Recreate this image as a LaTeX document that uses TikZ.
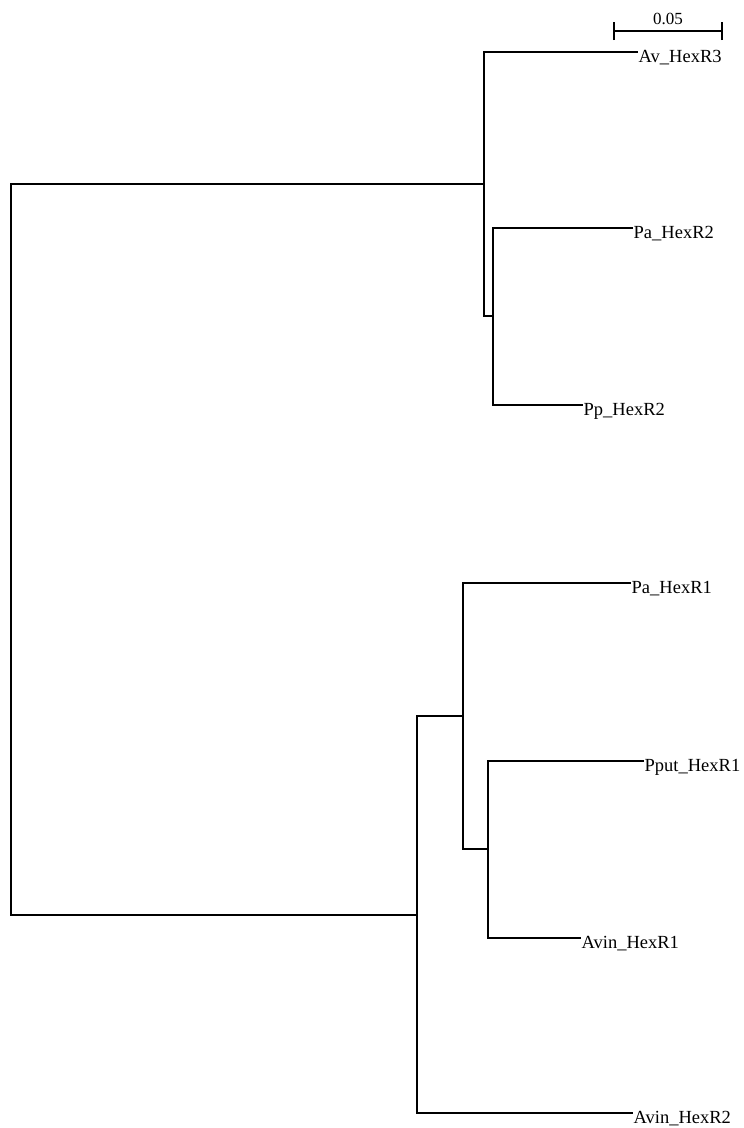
\documentclass[tikz,border=0pt]{standalone}
\usepackage{fontspec}
\setmainfont{Liberation Serif}
\begin{document}
\begin{tikzpicture}[x=1pt,y=-1pt,
  branch/.style={line width=1.7pt,line cap=rect},
  leaf/.style={anchor=west,inner sep=1.5pt,yshift=-6pt,font=\fontsize{18.5}{18.5}\selectfont}]
\useasboundingbox (0,0) rectangle (744,1128);
% internal nodes
\coordinate (root) at (11,550);
\coordinate (A) at (484,184);
\coordinate (B) at (493,316);
\coordinate (C) at (417,915);
\coordinate (D) at (463,716);
\coordinate (E) at (488,849);
% leaves
\node[leaf] (l1) at (637,52) {Av\_HexR3};
\node[leaf] (l2) at (632,228) {Pa\_HexR2};
\node[leaf] (l3) at (582,405) {Pp\_HexR2};
\node[leaf] (l4) at (630,583) {Pa\_HexR1};
\node[leaf] (l5) at (643,761) {Pput\_HexR1};
\node[leaf] (l6) at (580,938) {Avin\_HexR1};
\node[leaf] (l7) at (632,1113) {Avin\_HexR2};
\foreach \i in {1,...,7} \coordinate (e\i) at ([yshift=6pt]l\i.west);
% root
\draw[branch] (A) -- (A -| root) -- (C -| root) -- (C);
% top clade
\draw[branch] (e1) -- (e1 -| A) -- (B -| A) -- (B);
\draw[branch] (e2) -- (e2 -| B) -- (e3 -| B) -- (e3);
% bottom clade
\draw[branch] (D) -- (D -| C);
\draw[branch] (C |- D) -- (C |- e7) -- (e7);
\draw[branch] (e4) -- (e4 -| D) -- (E -| D) -- (E);
\draw[branch] (e5) -- (e5 -| E) -- (e6 -| E) -- (e6);
% scale bar
\coordinate (s1) at (614,31);
\coordinate (s2) at (722,31);
\draw[branch,line cap=butt] (s1) -- (s2);
\draw[branch,line cap=butt] ([yshift=-9]s1) -- ([yshift=9]s1);
\draw[branch,line cap=butt] ([yshift=-9]s2) -- ([yshift=9]s2);
\node[font=\fontsize{17}{17}\selectfont,inner sep=1pt] (sl) at (668,19) {0.05};
\end{tikzpicture}
\end{document}
